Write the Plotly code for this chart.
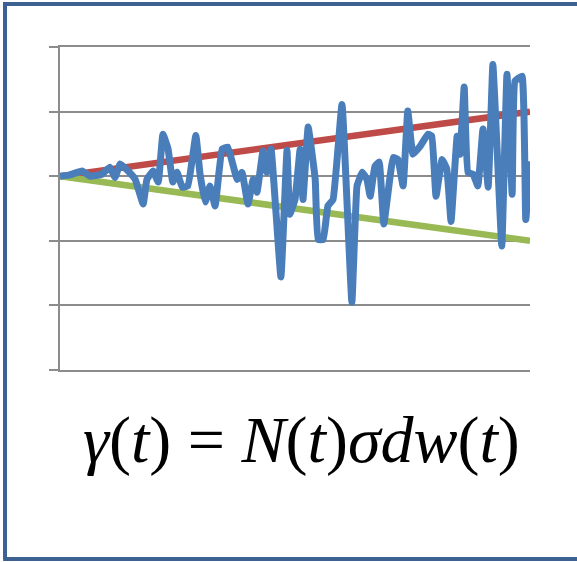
import plotly.graph_objects as go

# time index (0..100) and noisy series values
t = [0, 2.1, 4.7, 6.4, 8.9, 10.6, 11.7, 12.8, 14.5, 16.0, 17.7, 18.5, 19.8, 20.9, 21.9, 23.0,
     24.0, 24.9, 26.0, 27.2, 28.9, 29.8, 30.9, 31.9, 33.0, 34.5, 35.7, 37.7, 38.7, 40.0, 41.1,
     41.9, 43.2, 44.0, 44.9, 47.0, 48.3, 48.9, 50.0, 51.1, 51.7, 52.8, 54.3, 54.9, 56.0, 57.0,
     58.1, 60.0, 62.1, 63.2, 64.3, 65.3, 66.0, 67.0, 67.9, 68.9, 70.9, 71.9, 73.0, 74.0, 75.1,
     76.6, 78.3, 79.1, 80.0, 81.3, 82.3, 83.2, 84.5, 85.1, 86.0, 86.8, 87.9, 88.9, 90.0, 91.1,
     92.1, 93.0, 94.0, 95.1, 96.2, 96.8, 98.3, 99.1, 100]
noise = [0, 0.02, 0.08, 0, 0.03, 0.14, -0.02, 0.19, 0.08, -0.05, -0.43, -0.05, 0.08, -0.09, 0.65,
         0.42, -0.09, 0.06, -0.17, -0.15, 0.63, 0.03, -0.40, -0.15, -0.46, 0.42, 0.45, -0.05, 0.06,
         -0.43, -0.05, -0.25, 0.39, 0.06, 0.42, -1.56, 0.40, -0.59, -0.36, 0.42, -0.36, 0.76, -0.05,
         -0.98, -0.98, -0.46, -0.36, 1.11, -1.95, -0.15, 0.06, -0.05, -0.31, 0.15, 0.22, -0.74, 0.29,
         0.26, -0.15, 1.01, 0.34, 0.46, 0.65, 0.62, -0.31, 0.26, 0.11, -0.70, 0.62, 0.34, 1.38, 0.06,
         0.03, -0.15, 0.73, -0.17, 1.73, 0.42, -1.08, 1.58, -0.28, 1.47, 1.55, -0.67, 0.23]
env_t = [0, 100]
upper = [0, 1]
lower = [0, -1]

fig = go.Figure()
fig.add_trace(go.Scatter(x=env_t, y=upper, mode="lines",
                         line=dict(color="#BE4B48", width=6.5), showlegend=False))
fig.add_trace(go.Scatter(x=env_t, y=lower, mode="lines",
                         line=dict(color="#98B954", width=6.5), showlegend=False))
fig.add_trace(go.Scatter(x=t, y=noise, mode="lines",
                         line=dict(color="#4A7EBB", width=7, shape="spline", smoothing=0.3),
                         showlegend=False))

border = dict(color="#3D6291", width=4)
fig.update_layout(
    width=577, height=562,
    margin=dict(l=60, r=47, t=47, b=192),
    paper_bgcolor="white", plot_bgcolor="white",
    xaxis=dict(range=[0, 100], showgrid=False, zeroline=False, showticklabels=False,
               showline=True, linecolor="#8c8c8c", linewidth=2, mirror=True, ticks=""),
    yaxis=dict(range=[-3, 2], dtick=1, tick0=0, showgrid=True, gridcolor="#8c8c8c", gridwidth=2,
               zeroline=False, showticklabels=False, showline=True, linecolor="#8c8c8c",
               linewidth=2, ticks="outside", ticklen=9, tickcolor="#8c8c8c", tickwidth=2),
    shapes=[
        dict(type="line", xref="paper", yref="paper", x0=-0.117, x1=-0.117, y0=-0.585, y1=1.139,
             line=border, layer="above"),
        dict(type="line", xref="paper", yref="paper", x0=-0.121, x1=1.1, y0=1.133, y1=1.133,
             line=border, layer="above"),
        dict(type="line", xref="paper", yref="paper", x0=-0.121, x1=1.1, y0=-0.585, y1=-0.585,
             line=border, layer="above"),
    ],
    annotations=[dict(xref="paper", yref="paper", x=0.513, y=-0.217,
                      xanchor="center", yanchor="middle", showarrow=False,
                      text="<i>γ</i>(<i>t</i>) = <i>N</i>(<i>t</i>)<i>σdw</i>(<i>t</i>)",
                      font=dict(family="Liberation Serif", size=66, color="black"))],
)

fig.write_html("out.html")
